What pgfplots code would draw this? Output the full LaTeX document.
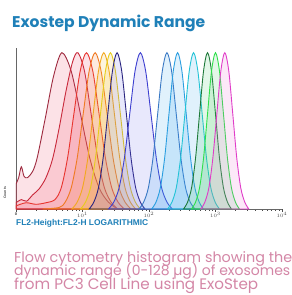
\documentclass[border=0pt]{standalone}
\usepackage{fontspec}
\usepackage{graphicx}
\usepackage{pgfplots}
\pgfplotsset{compat=1.18}
\setmainfont{Poppins}
\newfontfamily\labfont{Liberation Sans}
\definecolor{ttl}{HTML}{1F80B8}
\definecolor{cap}{HTML}{D486A6}
\definecolor{c1}{HTML}{9E2A3F}
\definecolor{c2}{HTML}{C8283A}
\definecolor{c3}{HTML}{E8342E}
\definecolor{c4}{HTML}{F07A22}
\definecolor{c5}{HTML}{F2A81E}
\definecolor{c6}{HTML}{E6CC1A}
\definecolor{c7}{HTML}{2A2580}
\definecolor{c8}{HTML}{3D3FD0}
\definecolor{c9}{HTML}{3978C4}
\definecolor{c10}{HTML}{2A9EE0}
\definecolor{c11}{HTML}{22C3D6}
\definecolor{c12}{HTML}{1E7A3A}
\definecolor{c13}{HTML}{2EE04A}
\definecolor{c14}{HTML}{E03CC8}
\definecolor{fr}{HTML}{F2506A}
\definecolor{fo}{HTML}{F5803A}
\definecolor{fy}{HTML}{F5C030}
\definecolor{fb}{HTML}{7070F0}
\definecolor{fc}{HTML}{40A8F0}
\definecolor{fg}{HTML}{50D070}
\definecolor{fm}{HTML}{F070D8}
\begin{document}
\begin{tikzpicture}[x=1pt,y=1pt]
\path[use as bounding box, fill=white] (0,0) rectangle (292,-295);
\node[anchor=base west, inner sep=0pt, text=ttl] at (12,-27) {\resizebox{193pt}{!}{\bfseries Exostep Dynamic Range}};
\begin{axis}[
  at={(16pt,-209pt)}, anchor=south west,
  scale only axis, width=266pt, height=161pt,
  xmin=0, xmax=4, ymin=0, ymax=103,
  axis x line=bottom, axis y line=left,
  axis line style={-, draw=black!60, line width=0.6pt},
  ytick=\empty,
  xtick={0,1,2,3,4},
  xticklabels={0,$10^1$,$10^2$,$10^3$,$10^4$},
  minor xtick={0.301,0.477,0.602,0.699,0.778,0.845,0.903,0.954,1.301,1.477,1.602,1.699,1.778,1.845,1.903,1.954,2.301,2.477,2.602,2.699,2.778,2.845,2.903,2.954,3.301,3.477,3.602,3.699,3.778,3.845,3.903,3.954},
  tick align=outside, major tick length=2.5pt, minor tick length=1.5pt,
  tick style={black!70, line width=0.5pt},
  xticklabel style={font=\fontsize{3.5}{4}\selectfont\bfseries, text=black!70, inner sep=1pt},
  xlabel={\resizebox{132pt}{!}{\labfont\bfseries FL2-Height:FL2-H LOGARITHMIC}},
  xlabel style={at={(0,0)}, anchor=north west, yshift=-10pt, text=ttl, inner sep=0pt},
  ylabel={\labfont\bfseries\fontsize{3.5}{4}\selectfont Counts},
  ylabel style={at={(axis description cs:-0.042,0.1)}, anchor=center, text=black!70, inner sep=0pt},
  clip=true,
  every axis plot/.style={smooth, tension=0.5, line width=0.9pt, fill opacity=0.16},
]
\addplot[c1, fill=fr] coordinates {(0,16)(0.04,20)(0.08,27)(0.12,21)(0.17,20)(0.25,24)(0.32,33)(0.44,58)(0.565,85)(0.69,100)(0.83,88.2)(0.97,60.7)(1.11,32.5)(1.25,13.5)(1.39,4.4)(1.53,0)} \closedcycle;
\addplot[c2, fill=fr] coordinates {(0,4)(0.08,6)(0.16,5)(0.25,9)(0.35,13)(0.45,20)(0.55,32)(0.65,52)(0.75,75)(0.85,94)(0.93,100)(1.03,88.2)(1.13,60.7)(1.23,32.5)(1.33,13.5)(1.43,4.4)(1.53,0)} \closedcycle;
\addplot[c3, fill=fr] coordinates {(0,2)(0.15,4)(0.3,3)(0.45,4)(0.585,6)(0.68,13.5)(0.775,32.5)(0.87,60.7)(0.965,88.2)(1.06,100)(1.155,88.2)(1.25,60.7)(1.345,32.5)(1.44,13.5)(1.535,4.4)(1.63,0)} \closedcycle;
\addplot[c4, fill=fo] coordinates {(0.4,0)(0.65,1)(0.74,4.4)(0.83,13.5)(0.92,32.5)(1.01,60.7)(1.10,88.2)(1.19,100)(1.28,88.2)(1.37,60.7)(1.46,32.5)(1.55,13.5)(1.64,4.4)(1.73,0)} \closedcycle;
\addplot[c5, fill=fy] coordinates {(0.84,0)(0.92,4.4)(1.00,13.5)(1.08,32.5)(1.16,60.7)(1.24,88.2)(1.32,100)(1.40,88.2)(1.48,60.7)(1.56,32.5)(1.64,13.5)(1.72,4.4)(1.80,0)} \closedcycle;
\addplot[c6, fill=fy] coordinates {(0.97,0)(1.045,4.4)(1.12,13.5)(1.195,32.5)(1.27,60.7)(1.345,88.2)(1.42,100)(1.495,88.2)(1.57,60.7)(1.645,32.5)(1.72,13.5)(1.795,4.4)(1.87,0)} \closedcycle;
\addplot[c7, fill=fb] coordinates {(1.10,0)(1.17,4.4)(1.24,13.5)(1.31,32.5)(1.38,60.7)(1.45,88.2)(1.52,100)(1.59,88.2)(1.66,60.7)(1.73,32.5)(1.80,13.5)(1.87,4.4)(1.94,0)} \closedcycle;
\addplot[c8, fill=fb] coordinates {(1.39,0)(1.47,4.4)(1.55,13.5)(1.63,32.5)(1.71,60.7)(1.79,88.2)(1.87,100)(1.95,88.2)(2.03,60.7)(2.11,32.5)(2.19,13.5)(2.27,4.4)(2.35,0)} \closedcycle;
\addplot[c9, fill=fc] coordinates {(1.85,0)(1.92,4.4)(1.99,13.5)(2.06,32.5)(2.13,60.7)(2.20,88.2)(2.27,100)(2.34,88.2)(2.41,60.7)(2.48,32.5)(2.55,13.5)(2.62,4.4)(2.69,0)} \closedcycle;
\addplot[c10, fill=fc] coordinates {(2.04,0)(2.105,4.4)(2.17,13.5)(2.235,32.5)(2.30,60.7)(2.365,88.2)(2.43,100)(2.495,88.2)(2.56,60.7)(2.625,32.5)(2.69,13.5)(2.755,4.4)(2.82,0)} \closedcycle;
\addplot[c11, fill=fc] coordinates {(2.28,0)(2.345,4.4)(2.41,13.5)(2.475,32.5)(2.54,60.7)(2.605,88.2)(2.67,100)(2.735,88.2)(2.80,60.7)(2.865,32.5)(2.93,13.5)(2.995,4.4)(3.06,0)} \closedcycle;
\addplot[c12, fill=fg] coordinates {(2.52,0)(2.58,4.4)(2.64,13.5)(2.70,32.5)(2.76,60.7)(2.82,88.2)(2.88,100)(2.94,88.2)(3.00,60.7)(3.06,32.5)(3.12,13.5)(3.18,4.4)(3.24,0)} \closedcycle;
\addplot[c13, fill=fg] coordinates {(2.64,0)(2.70,4.4)(2.76,13.5)(2.82,32.5)(2.88,60.7)(2.94,88.2)(3.00,100)(3.06,88.2)(3.12,60.7)(3.18,32.5)(3.24,13.5)(3.30,4.4)(3.36,0)} \closedcycle;
\addplot[c14, fill=fm] coordinates {(2.78,0)(2.84,4.4)(2.90,13.5)(2.96,32.5)(3.02,60.7)(3.08,88.2)(3.14,100)(3.20,88.2)(3.26,60.7)(3.32,32.5)(3.38,13.5)(3.44,4.4)(3.50,0)} \closedcycle;
\end{axis}
\node[anchor=base west, inner sep=0pt, text=cap] at (14,-262) {\resizebox{278pt}{!}{Flow cytometry histogram showing the}};
\node[anchor=base west, inner sep=0pt, text=cap] at (14,-275.5) {\resizebox{276pt}{!}{dynamic range (0-128 µg) of exosomes}};
\node[anchor=base west, inner sep=0pt, text=cap] at (14,-289) {\resizebox{244pt}{!}{from PC3 Cell Line using ExoStep}};
\end{tikzpicture}
\end{document}
